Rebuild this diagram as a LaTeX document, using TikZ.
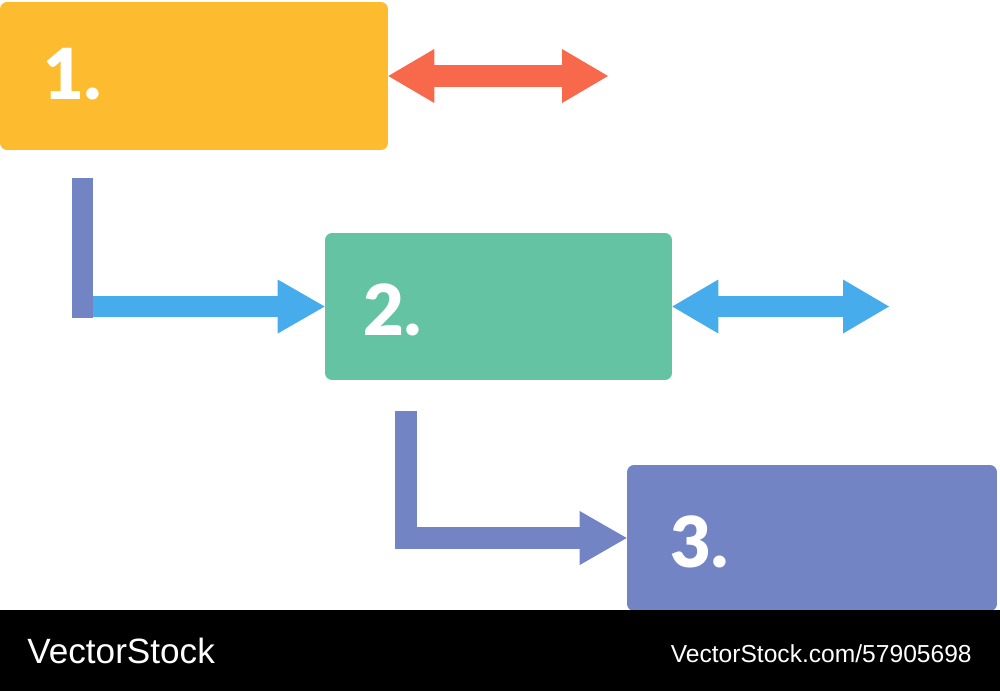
\documentclass[tikz,border=0pt]{standalone}
\usepackage{fontspec}
\usetikzlibrary{arrows.meta}
\newfontfamily\numfont{Lato Black}
\newfontfamily\stockfont{Liberation Sans}
\definecolor{boxorange}{HTML}{FDBB30}
\definecolor{arrowred}{HTML}{F8684A}
\definecolor{boxgreen}{HTML}{63C3A2}
\definecolor{arrowblue}{HTML}{46ACEB}
\definecolor{boxpurple}{HTML}{7384C5}

\begin{document}
\begin{tikzpicture}[x=0.02cm,y=-0.02cm]
\tikzstyle{box}=[rectangle, rounded corners=0.14cm, inner sep=0pt]
\tikzstyle{num}=[text=white, font={\numfont\fontsize{40}{40}\selectfont}, inner sep=0pt, anchor=base west]
\tikzstyle{fat}=[line width=0.43cm, -{Triangle[width=1.08cm,length=0.94cm,line width=0pt]}]
\tikzstyle{fatboth}=[line width=0.43cm, {Triangle[width=1.08cm,length=0.92cm,line width=0pt]}-{Triangle[width=1.08cm,length=0.92cm,line width=0pt]}]
\tikzstyle{stock}=[text=white, inner sep=0pt]

\useasboundingbox (0,0) rectangle (1000,691);

\node (one) at (194,76) [box, fill=boxorange, minimum width=7.76cm, minimum height=2.96cm] {};
\node (two) at (498.5,306.5) [box, fill=boxgreen, minimum width=6.94cm, minimum height=2.94cm] {};
\node (three) at (812,538) [box, fill=boxpurple, minimum width=7.4cm, minimum height=2.92cm] {};

\node (n1) at (43,99) [num] {1.};
\node (n2) at (363,335) [num] {2.};
\node (n3) at (670,567) [num] {3.};

% side arrows
\coordinate (r1) at (608,76);
\coordinate (r2) at (889,306.5);
\draw[fatboth, arrowred] (one.east) -- (r1);
\draw[fatboth, arrowblue] (two.east) -- (r2);

% 1 -> 2
\coordinate (k1) at (82.5,178);
\coordinate (k2) at (82.5,318);
\coordinate (k3) at (93,306.5);
\draw[line width=0.42cm, boxpurple] (k1) -- (k2);
\draw[fat, arrowblue] (k3) -- (two.west);

% 2 -> 3
\coordinate (k4) at (406,411);
\draw[fat, boxpurple] (k4) |- (three.west);

% footer
\fill[black] (0,610) rectangle (1000,691);
\node (brand) at (27,663) [stock, anchor=base west, font={\stockfont\fontsize{20}{20}\selectfont}] {VectorStock};
\node (url) at (972,662) [stock, anchor=base east, font={\stockfont\fontsize{14}{14}\selectfont}] {VectorStock.com/57905698};
\end{tikzpicture}
\end{document}
